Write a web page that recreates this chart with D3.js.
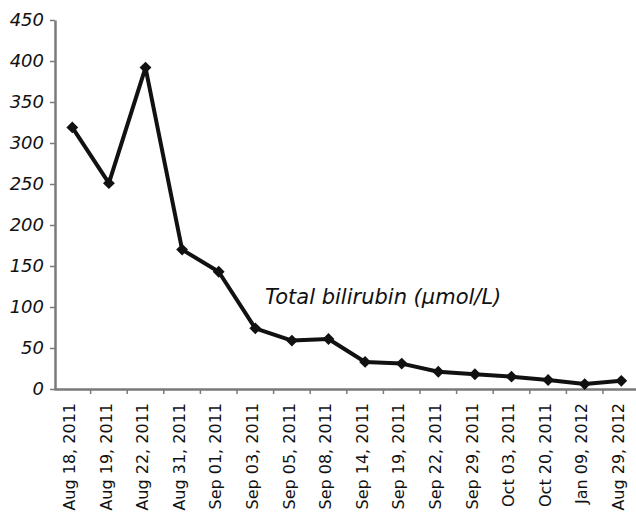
<!DOCTYPE html>
<html>
<head>
<meta charset="utf-8">
<script src="https://cdn.jsdelivr.net/npm/d3@7"></script>
<style>
  body { margin: 0; background: #fff; }
  text { font-family: "DejaVu Sans", sans-serif; }
</style>
</head>
<body>
<div class="chart"></div>
<script>
var dates = ["Aug 18, 2011", "Aug 19, 2011", "Aug 22, 2011", "Aug 31, 2011",
  "Sep 01, 2011", "Sep 03, 2011", "Sep 05, 2011", "Sep 08, 2011",
  "Sep 14, 2011", "Sep 19, 2011", "Sep 22, 2011", "Sep 29, 2011",
  "Oct 03, 2011", "Oct 20, 2011", "Jan 09, 2012", "Aug 29, 2012"];
var bilirubin = [319, 251, 392, 170, 143, 74, 59, 61, 33, 31, 21, 18, 15, 11, 6, 10];
var yTicks = [0, 50, 100, 150, 200, 250, 300, 350, 400, 450];
var seriesLabel = "Total bilirubin (\u00b5mol/L)";

var svgWidth = 636;
var svgHeight = 515;

var svg = d3.select(".chart")
  .append("svg")
  .attr("width", svgWidth)
  .attr("height", svgHeight);

var x = d3.scaleBand()
  .domain(dates)
  .range([54, 54 + 16 * 36.6]);

var y = d3.scaleLinear()
  .domain([0, 450])
  .range([389, 20]);

// y axis
var yAxis = svg.append("g")
  .attr("transform", "translate(55,0)")
  .call(d3.axisLeft(y).tickValues(yTicks).tickSize(5).tickSizeOuter(0).tickPadding(6));
yAxis.select(".domain").attr("stroke", "#7a7a7a").attr("stroke-width", 2.5);
yAxis.selectAll(".tick line").attr("stroke", "#7a7a7a").attr("stroke-width", 1.5);
yAxis.selectAll(".tick text")
  .attr("fill", "#111")
  .style("font-size", "18px")
  .style("font-style", "italic");

// x axis
var xAxis = svg.append("g")
  .attr("transform", "translate(0,389)")
  .call(d3.axisBottom(x).tickSize(0).tickSizeOuter(0));
xAxis.select(".domain").attr("stroke", "#7a7a7a").attr("stroke-width", 2.5);
xAxis.selectAll(".tick text")
  .attr("fill", "#111")
  .style("font-size", "16px")
  .attr("text-anchor", "end")
  .attr("transform", "rotate(-90)")
  .attr("x", -14)
  .attr("y", -3)
  .attr("dy", "0.35em");

// band boundary ticks on x axis
svg.append("g").selectAll("line")
  .data(dates.slice(1))
  .enter()
  .append("line")
  .attr("x1", d => x(d))
  .attr("x2", d => x(d))
  .attr("y1", 389)
  .attr("y2", 394)
  .attr("stroke", "#7a7a7a")
  .attr("stroke-width", 1.5);

var cx = (d, i) => x(dates[i]) + x.bandwidth() / 2;

var line = d3.line()
  .x((d, i) => cx(d, i))
  .y(d => y(d));

svg.append("path")
  .datum(bilirubin)
  .attr("fill", "none")
  .attr("stroke", "#111")
  .attr("stroke-width", 4)
  .attr("stroke-linejoin", "round")
  .attr("d", line);

// square markers turned 45 degrees
var marker = d3.symbol().type(d3.symbolSquare).size(70);
svg.append("g").selectAll("path")
  .data(bilirubin)
  .enter()
  .append("path")
  .attr("d", marker)
  .attr("transform", (d, i) => `translate(${cx(d, i)},${y(d)}) rotate(45)`)
  .attr("fill", "#111");

svg.append("text")
  .attr("x", 265)
  .attr("y", 304)
  .attr("fill", "#111")
  .style("font-size", "21px")
  .style("font-style", "italic")
  .text(seriesLabel);
</script>
</body>
</html>
